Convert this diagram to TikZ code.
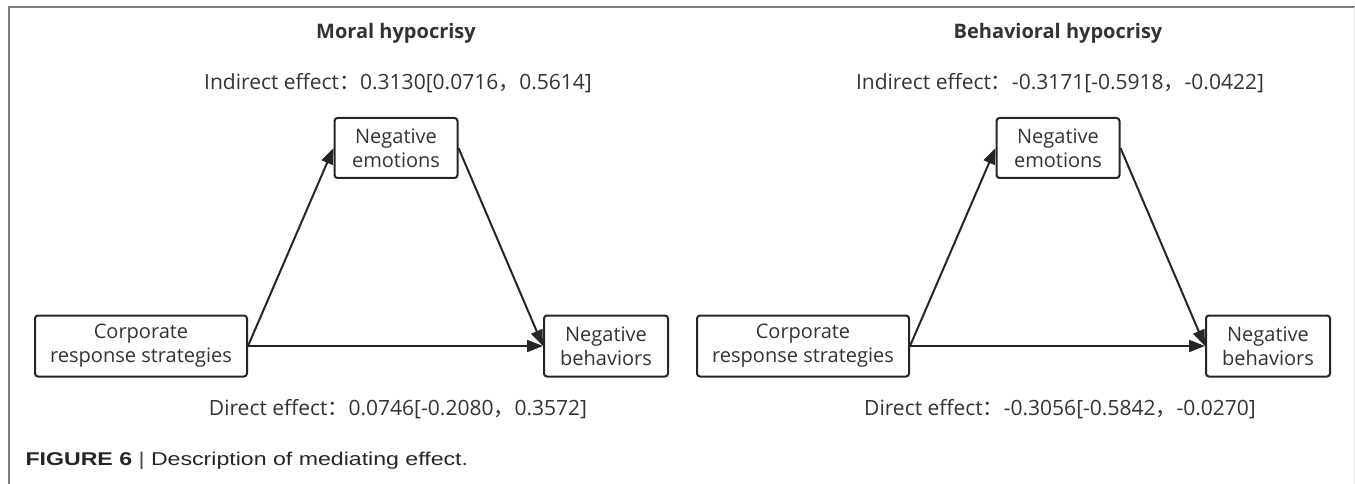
\documentclass[tikz,border=0pt]{standalone}
\usepackage{xcolor}
\usepackage{fontspec}
\setmainfont{Open Sans}
\newfontfamily\cjk{Noto Sans CJK SC}
\newfontfamily\capfont[FakeStretch=1.25]{Liberation Sans}
\usetikzlibrary{arrows.meta}

\definecolor{txtgray}{HTML}{333333}
\definecolor{linegray}{HTML}{252525}
\definecolor{framegray}{HTML}{7A7A7A}

\tikzset{
  var/.style={draw=linegray, line width=2pt, rounded corners=3pt, align=center,
    inner sep=0pt, text=txtgray, font=\fontsize{20}{24}\selectfont},
  effect/.style={text=txtgray, font=\fontsize{21}{25}\selectfont},
  paneltitle/.style={text=txtgray, font=\bfseries\fontsize{20}{24}\selectfont},
  arr/.style={draw=linegray, line width=2pt, -{Triangle[length=16pt,width=12pt]}},
  caption/.style={text=black!85, font=\capfont\fontsize{18.5}{22}\selectfont}
}

\begin{document}
\begin{tikzpicture}[x=1pt,y=1pt]
   \useasboundingbox (0,0) rectangle (1355,-484);
   \draw[framegray, line width=1.2pt] (9,-484) -- (9,-7) -- (1355,-7);
   \draw[gray!20, line width=1pt] (1354.5,-7) -- (1354.5,-484);
   % moral hypocrisy
   \begin{scope}
      \node[paneltitle] (tMH) at (396,-33) {Moral hypocrisy};
      \node[effect] (iMH) at (398,-83) {Indirect effect{\cjk ：}0.3130[0.0716{\cjk ，}0.5614]};
      \node[var, minimum width=123pt, minimum height=60pt] (neMH) at (396,-148) {Negative\\emotions};
      \node[var, minimum width=212pt, minimum height=61pt] (crsMH) at (141,-346) {Corporate\\response strategies};
      \node[var, minimum width=124pt, minimum height=61pt] (nbMH) at (606,-346) {Negative\\behaviors};
      \node[effect] (dMH) at (398,-409) {Direct effect{\cjk ：}0.0746[-0.2080{\cjk ，}0.3572]};
   \end{scope}
   \draw[arr] (crsMH.east) -- (neMH.west);
   \draw[arr] (neMH.east) -- (nbMH.west);
   \draw[arr] (crsMH.east) -- (nbMH.west);
   % behavioral hypocrisy
   \begin{scope}[shift={(662,0)}]
      \node[paneltitle] (tBH) at (396,-33) {Behavioral hypocrisy};
      \node[effect] (iBH) at (398,-83) {Indirect effect{\cjk ：}-0.3171[-0.5918{\cjk ，}-0.0422]};
      \node[var, minimum width=123pt, minimum height=60pt] (neBH) at (396,-148) {Negative\\emotions};
      \node[var, minimum width=212pt, minimum height=61pt] (crsBH) at (141,-346) {Corporate\\response strategies};
      \node[var, minimum width=124pt, minimum height=61pt] (nbBH) at (606,-346) {Negative\\behaviors};
      \node[effect] (dBH) at (398,-409) {Direct effect{\cjk ：}-0.3056[-0.5842{\cjk ，}-0.0270]};
   \end{scope}
   \draw[arr] (crsBH.east) -- (neBH.west);
   \draw[arr] (neBH.east) -- (nbBH.west);
   \draw[arr] (crsBH.east) -- (nbBH.west);
   % caption
   \node[caption, anchor=west] (cap) at (22,-461)
      {\textbf{FIGURE 6} \textcolor{black!70}{|} Description of mediating effect.};
\end{tikzpicture}
\end{document}
